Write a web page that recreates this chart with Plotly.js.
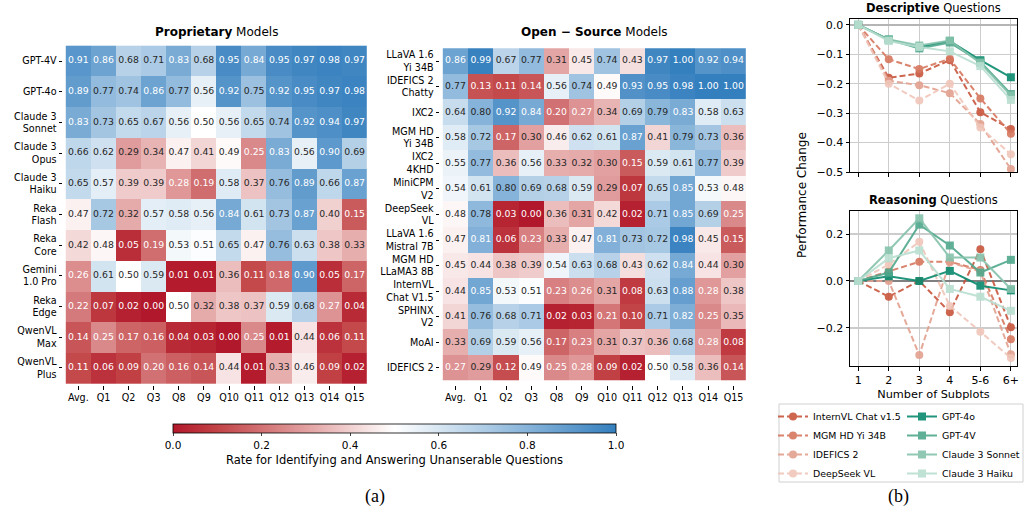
<!DOCTYPE html>
<html><head><meta charset="utf-8">
<script src="https://cdn.plot.ly/plotly-3.0.1.min.js"></script>
<style>html,body{margin:0;padding:0;background:#fff}#chart{width:1025px;height:510px}</style>
</head><body><div id="chart"></div>
<script>
// ---------- DATA ----------
const questions = ['Avg.','Q1','Q2','Q3','Q8','Q9','Q10','Q11','Q12','Q13','Q14','Q15'];

const propModels = ['GPT-4V','GPT-4o','Claude 3<br>Sonnet','Claude 3<br>Opus','Claude 3<br>Haiku','Reka<br>Flash','Reka<br>Core','Gemini<br>1.0 Pro','Reka<br>Edge','QwenVL<br>Max','QwenVL<br>Plus'];
const propValues = [
  [0.91,0.86,0.68,0.71,0.83,0.68,0.95,0.84,0.95,0.97,0.98,0.97],
  [0.89,0.77,0.74,0.86,0.77,0.56,0.92,0.75,0.92,0.95,0.97,0.98],
  [0.83,0.73,0.65,0.67,0.56,0.50,0.56,0.65,0.74,0.92,0.94,0.97],
  [0.66,0.62,0.29,0.34,0.47,0.41,0.49,0.25,0.83,0.56,0.90,0.69],
  [0.65,0.57,0.39,0.39,0.28,0.19,0.58,0.37,0.76,0.89,0.66,0.87],
  [0.47,0.72,0.32,0.57,0.58,0.56,0.84,0.61,0.73,0.87,0.40,0.15],
  [0.42,0.48,0.05,0.19,0.53,0.51,0.65,0.47,0.76,0.63,0.38,0.33],
  [0.26,0.61,0.50,0.59,0.01,0.01,0.36,0.11,0.18,0.90,0.05,0.17],
  [0.22,0.07,0.02,0.00,0.50,0.32,0.38,0.37,0.59,0.68,0.27,0.04],
  [0.14,0.25,0.17,0.16,0.04,0.03,0.00,0.25,0.01,0.44,0.06,0.11],
  [0.11,0.06,0.09,0.20,0.16,0.14,0.44,0.01,0.33,0.46,0.09,0.02]
];

const openModels = ['LLaVA 1.6<br>Yi 34B','IDEFICS 2<br>Chatty','IXC2','MGM HD<br>Yi 34B','IXC2<br>4KHD','MiniCPM<br>V2','DeepSeek<br>VL','LLaVA 1.6<br>Mistral 7B','MGM HD<br>LLaMA3 8B','InternVL<br>Chat V1.5','SPHINX<br>V2','MoAI','IDEFICS 2'];
const openValues = [
  [0.86,0.99,0.67,0.77,0.31,0.45,0.74,0.43,0.97,1.00,0.92,0.94],
  [0.77,0.13,0.11,0.14,0.56,0.74,0.49,0.93,0.95,0.98,1.00,1.00],
  [0.64,0.80,0.92,0.84,0.20,0.27,0.34,0.69,0.79,0.83,0.58,0.63],
  [0.58,0.72,0.17,0.30,0.46,0.62,0.61,0.87,0.41,0.79,0.73,0.36],
  [0.55,0.77,0.36,0.56,0.33,0.32,0.30,0.15,0.59,0.61,0.77,0.39],
  [0.54,0.61,0.80,0.69,0.68,0.59,0.29,0.07,0.65,0.85,0.53,0.48],
  [0.48,0.78,0.03,0.00,0.36,0.31,0.42,0.02,0.71,0.85,0.69,0.25],
  [0.47,0.81,0.06,0.23,0.33,0.47,0.81,0.73,0.72,0.98,0.45,0.15],
  [0.45,0.44,0.38,0.39,0.54,0.63,0.68,0.43,0.62,0.84,0.44,0.30],
  [0.44,0.85,0.53,0.51,0.23,0.26,0.31,0.08,0.63,0.88,0.28,0.38],
  [0.41,0.76,0.68,0.71,0.02,0.03,0.21,0.10,0.71,0.82,0.25,0.35],
  [0.33,0.69,0.59,0.56,0.17,0.23,0.31,0.37,0.36,0.68,0.28,0.08],
  [0.27,0.29,0.12,0.49,0.25,0.28,0.09,0.02,0.50,0.58,0.36,0.14]
];

const subplotCounts = ['1','2','3','4','5-6','6+'];
const lineModels = ['InternVL Chat v1.5','MGM HD Yi 34B','IDEFICS 2','DeepSeek VL','GPT-4o','GPT-4V','Claude 3 Sonnet','Claude 3 Haiku'];

const descInternVL = [0,-0.18,-0.165,-0.12,-0.297,-0.354];
const descMGM      = [0,-0.117,-0.15,-0.115,-0.25,-0.37];
const descIDEFICS  = [0,-0.19,-0.205,-0.232,-0.337,-0.49];
const descDeepSeek = [0,-0.2,-0.257,-0.2,-0.349,-0.44];
const descGPT4o    = [0,-0.05,-0.075,-0.055,-0.12,-0.178];
const descGPT4V    = [0,-0.05,-0.08,-0.06,-0.125,-0.235];
const descSonnet   = [0,-0.05,-0.07,-0.053,-0.13,-0.24];
const descHaiku    = [0,-0.055,-0.075,-0.09,-0.14,-0.255];

const reasInternVL = [0,-0.067,0.0,-0.133,0.135,-0.197];
const reasMGM      = [0,0.04,0.082,0.082,0.047,-0.248];
const reasIDEFICS  = [0,0.0,-0.315,0.08,0.04,-0.312];
const reasDeepSeek = [0,0.07,0.167,-0.106,-0.216,-0.328];
const reasGPT4o    = [0,0.02,0.0,0.043,-0.02,-0.04];
const reasGPT4V    = [0,0.036,0.24,0.151,0.036,0.09];
const reasSonnet   = [0,0.13,0.267,0.1,0.1,-0.034];
const reasHaiku    = [0,0.097,0.13,-0.034,-0.067,-0.127];

// ---------- STYLE ----------
const FONT = 'DejaVu Sans, sans-serif';
const colorscale = [
  [0,'#b2182b'],[0.1,'#c24447'],[0.2,'#d27173'],[0.3,'#e2a0a0'],[0.4,'#f1d0d0'],
  [0.5,'#ffffff'],[0.6,'#d7e6f2'],[0.7,'#afcde6'],[0.8,'#86b3d9'],[0.9,'#5d99cc'],[1,'#347fbe']
];
const lineColors = ['#c8553d','#d6775f','#e3a08e','#f0c6b9','#0a8a6e','#4fa88c','#86c3ac','#b9dfd1'];

function textColor(v){ return (v < 0.285 || v > 0.805) ? '#ffffff' : '#262626'; }

function heatTraces(models, values, xa, ya){
  const tx=[], ty=[], tt=[], tc=[];
  models.forEach((m,i)=>questions.forEach((q,j)=>{
    tx.push(q); ty.push(m); tt.push(values[i][j].toFixed(2)); tc.push(textColor(values[i][j]));
  }));
  return [
    {type:'heatmap', x:questions, y:models, z:values, coloraxis:'coloraxis', xaxis:xa, yaxis:ya, hoverinfo:'skip', showlegend:false},
    {type:'scatter', mode:'text', x:tx, y:ty, text:tt, textfont:{family:FONT,size:9.3,color:tc}, xaxis:xa, yaxis:ya, hoverinfo:'skip', showlegend:false, cliponaxis:false}
  ];
}

const descSeries = [descInternVL,descMGM,descIDEFICS,descDeepSeek,descGPT4o,descGPT4V,descSonnet,descHaiku];
const reasSeries = [reasInternVL,reasMGM,reasIDEFICS,reasDeepSeek,reasGPT4o,reasGPT4V,reasSonnet,reasHaiku];

function lineTraces(series, xa, ya, showLeg){
  return series.map((ys,k)=>{
    const isOpen = k < 4;
    return {
      type:'scatter', mode:'lines+markers', x:subplotCounts, y:ys, name:lineModels[k],
      xaxis:xa, yaxis:ya, opacity:0.9,
      line:{color:lineColors[k], width:2, dash: isOpen ? '6px,3px' : 'solid'},
      marker:{color:lineColors[k], size:8, symbol: isOpen ? 'circle' : 'square'},
      showlegend:showLeg, legend: isOpen ? 'legend' : 'legend2', hoverinfo:'skip', cliponaxis:false
    };
  });
}

const data = [].concat(
  heatTraces(propModels, propValues, 'x', 'y'),
  heatTraces(openModels, openValues, 'x2', 'y2'),
  lineTraces(descSeries, 'x3', 'y3', false),
  lineTraces(reasSeries, 'x4', 'y4', true)
);

const H = 510, W = 1025;
const py = p => 1 - p/H, px = p => p/W;

const heatX = (d)=>({domain:d, type:'category', ticks:'outside', ticklen:3.5, tickwidth:1, tickcolor:'#000',
  showgrid:false, zeroline:false, showline:false, tickfont:{family:FONT,size:9.6,color:'#000'}, fixedrange:true});
const heatY = (d, anchor)=>({domain:d, type:'category', autorange:'reversed', ticks:'outside', ticklen:3.5, tickwidth:1, tickcolor:'#000',
  showgrid:false, zeroline:false, showline:false, tickfont:{family:FONT,size:9.6,color:'#000'}, anchor:anchor});

const lineAxisCommon = {showline:true, mirror:true, linecolor:'#000', linewidth:1, ticks:'outside', ticklen:3.5, tickcolor:'#000',
  showgrid:true, gridcolor:'#cccccc', gridwidth:1.2, tickfont:{family:FONT,size:11,color:'#000'}};

function note(x, y, text, font, extra){
  return Object.assign({xref:'paper', yref:'paper', x:px(x), y:py(y), xanchor:'center', yanchor:'middle', text:text, showarrow:false, font:font}, extra||{});
}

const layout = {
  width:W, height:H, margin:{l:0,r:0,t:0,b:0}, paper_bgcolor:'#fff', plot_bgcolor:'#fff',
  font:{family:FONT, color:'#000'},
  coloraxis:{colorscale:colorscale, cmin:0, cmax:1,
    colorbar:{orientation:'h', x:px(394.5), xanchor:'center', y:py(424), yanchor:'top', len:443/W, lenmode:'fraction',
      thickness:9, xpad:0, ypad:0, outlinewidth:0.8, outlinecolor:'#000', ticks:'outside', ticklen:3.5,
      tickvals:[0,0.2,0.4,0.6,0.8,1.0], tickformat:'.1f', tickfont:{family:FONT,size:10.5,color:'#000'},
      title:{text:'Rate for Identifying and Answering Unanserable Questions', side:'bottom', font:{family:FONT,size:11.5,color:'#000'}}}},
  xaxis: heatX([px(63), px(370)]),
  yaxis: heatY([py(385), py(44)], 'x'),
  xaxis2: Object.assign(heatX([px(440), px(749)]), {anchor:'y2'}),
  yaxis2: heatY([py(385), py(44)], 'x2'),
  xaxis3: Object.assign({}, lineAxisCommon, {domain:[px(850), px(1017)], anchor:'y3', type:'category', range:[-0.27,5.2], showticklabels:false}),
  yaxis3: Object.assign({}, lineAxisCommon, {domain:[py(172), py(19)], anchor:'x3', range:[-0.5,0.02], tickvals:[0,-0.1,-0.2,-0.3,-0.4,-0.5], tickformat:'.1f',
    zeroline:true, zerolinecolor:'#b5b5b5', zerolinewidth:2}),
  xaxis4: Object.assign({}, lineAxisCommon, {domain:[px(850), px(1017)], anchor:'y4', type:'category', range:[-0.27,5.2],
    title:{text:'Number of Subplots', font:{family:FONT,size:11.3,color:'#000'}, standoff:4}}),
  yaxis4: Object.assign({}, lineAxisCommon, {domain:[py(366), py(211)], anchor:'x4', range:[-0.362,0.298], tickvals:[-0.2,0,0.2], tickformat:'.1f',
    zeroline:true, zerolinecolor:'#808080', zerolinewidth:1.6}),
  legend:{x:px(773), xanchor:'left', y:py(402), yanchor:'top', bgcolor:'rgba(0,0,0,0)', borderwidth:0,
    font:{family:FONT,size:9.4,color:'#000'}, tracegroupgap:0, itemwidth:30},
  legend2:{x:1, xanchor:'right', y:py(402), yanchor:'top', bgcolor:'rgba(0,0,0,0)', borderwidth:0,
    font:{family:FONT,size:9.4,color:'#000'}, tracegroupgap:0, itemwidth:30},
  shapes:[
    {type:'rect', xref:'paper', yref:'paper', x0:px(779), x1:px(1023), y0:py(482), y1:py(404), line:{color:'#d0d0d0', width:1}, fillcolor:'rgba(0,0,0,0)'}
  ],
  annotations:[
    note(216.5, 32, '<b>Proprietary</b> Models', {family:FONT,size:12,color:'#000'}),
    note(594.5, 32, '<b>Open − Source</b> Models', {family:FONT,size:12,color:'#000'}),
    note(933.5, 8, '<b>Descriptive</b> Questions', {family:FONT,size:11.5,color:'#000'}),
    note(933.5, 200, '<b>Reasoning</b> Questions', {family:FONT,size:11.5,color:'#000'}),
    note(802, 195, 'Performance Change', {family:FONT,size:12,color:'#000'}, {textangle:-90}),
    note(375, 496, '(a)', {family:'Liberation Serif, serif',size:18,color:'#000'}),
    note(898, 496, '(b)', {family:'Liberation Serif, serif',size:18,color:'#000'})
  ]
};

Plotly.newPlot('chart', data, layout, {staticPlot:true, displayModeBar:false});
</script>
</body></html>
